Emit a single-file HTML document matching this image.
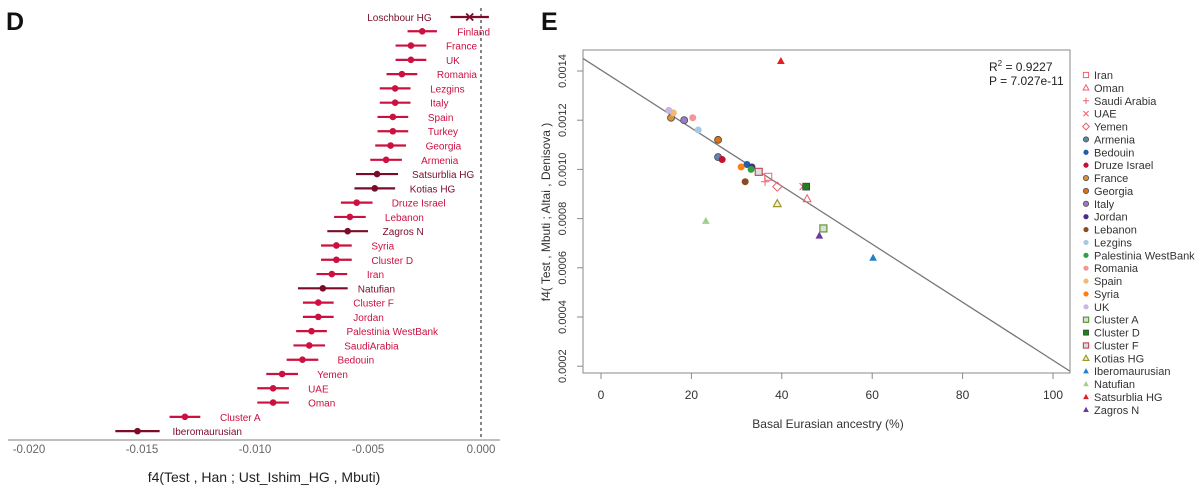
<!DOCTYPE html>
<html><head><meta charset="utf-8"><style>
body{margin:0;background:#fff;width:1200px;height:490px;overflow:hidden}
svg{font-family:"Liberation Sans",sans-serif}
</style></head><body>
<svg id="s" width="1200" height="490" viewBox="0 0 1200 490">
<text x="6" y="30" font-size="25" font-weight="bold" fill="#111">D</text>
<text x="541" y="30" font-size="25" font-weight="bold" fill="#111">E</text>
<g id="left"></g>
<g id="right"></g>
</svg>
<script>
// ---------- Panel D data ----------
const popsD = ["Loschbour HG","Finland","France","UK","Romania","Lezgins","Italy","Spain","Turkey","Georgia","Armenia","Satsurblia HG","Kotias HG","Druze Israel","Lebanon","Zagros N","Syria","Cluster D","Iran","Natufian","Cluster F","Jordan","Palestinia WestBank","SaudiArabia","Bedouin","Yemen","UAE","Oman","Cluster A","Iberomaurusian"];
const f4D = [-0.0005,-0.0026,-0.0031,-0.0031,-0.0035,-0.0038,-0.0038,-0.0039,-0.0039,-0.0040,-0.0042,-0.0046,-0.0047,-0.0055,-0.0058,-0.0059,-0.0064,-0.0064,-0.0066,-0.0070,-0.0072,-0.0072,-0.0075,-0.0076,-0.0079,-0.0088,-0.0092,-0.0092,-0.0131,-0.0152];
const errD = [0.00085,0.00065,0.00068,0.00068,0.00068,0.00068,0.00068,0.00068,0.00068,0.00068,0.0007,0.00093,0.0009,0.0007,0.0007,0.0009,0.00068,0.00068,0.00068,0.0011,0.00068,0.00068,0.00068,0.0007,0.0007,0.0007,0.0007,0.0007,0.00068,0.00098];
const ancientD = [1,0,0,0,0,0,0,0,0,0,0,1,1,0,0,1,0,0,0,1,0,0,0,0,0,0,0,0,0,1];
const ticksD = [-0.020,-0.015,-0.010,-0.005,0.000];
const tickLabelsD = ["-0.020","-0.015","-0.010","-0.005","0.000"];

// ---------- Panel E data ----------
const popsE = ["Iran","Oman","Saudi Arabia","UAE","Yemen","Armenia","Bedouin","Druze Israel","France","Georgia","Italy","Jordan","Lebanon","Lezgins","Palestinia WestBank","Romania","Spain","Syria","UK","Cluster A","Cluster D","Cluster F","Kotias HG","Iberomaurusian","Natufian","Satsurblia HG","Zagros N"];
const basalE = [37,45.6,36.3,44.7,39,25.9,32.3,26.8,15.5,25.9,18.4,33.4,31.9,21.5,33.2,20.3,16,31,15,49.2,45.4,34.9,39,60.2,23.2,39.8,48.3];
const f4E = [0.00097,0.00088,0.00095,0.00093,0.00093,0.00105,0.00102,0.00104,0.00121,0.00112,0.00120,0.00101,0.00095,0.00116,0.00100,0.00121,0.00123,0.00101,0.00124,0.00076,0.00093,0.00099,0.00086,0.00064,0.00079,0.00144,0.00073];
const shapeE = ["sq","tri","plus","x","dia","co","c","c","co","co","co","c","c","c","c","c","c","c","c","sqo","sqf","sqo","trio","trif","trif","trif","trif"];
const colorE = ["#f0606a","#f0606a","#f0606a","#f0606a","#f0606a","#5a88b0","#1f5fa8","#c8102e","#e0903a","#e07010","#9a7cc8","#4a2a8a","#8b4a20","#a8c8e0","#30a040","#f09898","#f4b870","#ff8010","#c8b8e0","#5a9a30","#208020","#c05060","#9a9a20","#2080c8","#a0d090","#e02020","#6a3aa0"];
const xTicksE = [0,20,40,60,80,100];
const yTicksE = [0.0002,0.0004,0.0006,0.0008,0.0010,0.0012,0.0014];
const yTickLabelsE = ["0.0002","0.0004","0.0006","0.0008","0.0010","0.0012","0.0014"];
const fitE = [0.001404,-0.0000118];

const NS="http://www.w3.org/2000/svg";
function mk(p,t,a){const e=document.createElementNS(NS,t);for(const k in a)e.setAttribute(k,a[k]);p.appendChild(e);return e;}

// ---------- Panel D ----------
const L=document.getElementById('left');
const xD=v=>481+v*22600;
const yD=i=>17+i*14.28;
let ax=mk(L,'line',{x1:8,y1:440,x2:500,y2:440,stroke:'#999','stroke-width':1.3});

let dl=mk(L,'line',{x1:xD(0),y1:8,x2:xD(0),y2:440,stroke:'#444','stroke-width':1.3,'stroke-dasharray':'3,3'});

ticksD.forEach((t,i)=>{
  const tl=mk(L,'text',{x:xD(t),y:453,'font-size':11.5,fill:'#666','text-anchor':'middle'});
  tl.textContent=tickLabelsD[i];
  
});
const xt=mk(L,'text',{x:264,y:482,'font-size':14,fill:'#222','text-anchor':'middle'});
xt.textContent='f4(Test , Han ; Ust_Ishim_HG , Mbuti)';

popsD.forEach((p,i)=>{
  const c=ancientD[i]?'#7a0c2a':'#cc1040';
  const y=yD(i),x=xD(f4D[i]);
  const g=mk(L,'g',{});
  
  
  mk(g,'line',{x1:xD(f4D[i]-errD[i]),x2:xD(f4D[i]+errD[i]),y1:y,y2:y,stroke:c,'stroke-width':2.2});
  if(i===0){
    mk(g,'path',{d:`M${x-3.5},${y-3.5}L${x+3.5},${y+3.5}M${x-3.5},${y+3.5}L${x+3.5},${y-3.5}`,stroke:c,'stroke-width':1.8});
  } else mk(g,'circle',{cx:x,cy:y,r:3.3,fill:c});
  const lbl=i===0?mk(g,'text',{x:x-38,y:y+4,'font-size':10,fill:c,'text-anchor':'end'}):mk(g,'text',{x:x+35,y:y+4,'font-size':10,fill:c});
  lbl.textContent=p;
});

// ---------- Panel E ----------
const R=document.getElementById('right');
const xE=v=>601+v*4.52;
const yE=v=>71+(0.0014-v)*246000;
const bx=mk(R,'rect',{x:583,y:50,width:487,height:323,fill:'none',stroke:'#888','stroke-width':1});

xTicksE.forEach(t=>{
  mk(R,'line',{x1:xE(t),x2:xE(t),y1:373,y2:379,stroke:'#888'});
  const tl=mk(R,'text',{x:xE(t),y:399,'font-size':12,fill:'#333','text-anchor':'middle'});
  tl.textContent=String(t);
  
});
yTicksE.forEach((t,i)=>{
  mk(R,'line',{x1:577,x2:583,y1:yE(t),y2:yE(t),stroke:'#888'});
  const tl=mk(R,'text',{x:0,y:0,'font-size':11,fill:'#333','text-anchor':'middle',transform:`translate(566,${yE(t)}) rotate(-90)`});
  tl.textContent=yTickLabelsE[i];
  
});
const xte=mk(R,'text',{x:828,y:428,'font-size':12,fill:'#333','text-anchor':'middle'});
xte.textContent='Basal Eurasian ancestry (%)';

const yte=mk(R,'text',{x:0,y:0,'font-size':12,fill:'#333','text-anchor':'middle',transform:'translate(550,212) rotate(-90)'});
yte.textContent='f4( Test , Mbuti ; Altai , Denisova )';

// regression line clipped to box
const cp=mk(R,'clipPath',{id:'cb'});mk(cp,'rect',{x:583,y:50,width:487,height:323});
const xs0=(583-601)/4.52, xs1=(1070-601)/4.52;
const rl=mk(R,'line',{x1:xE(xs0),y1:yE(fitE[0]+fitE[1]*xs0),x2:xE(xs1),y2:yE(fitE[0]+fitE[1]*xs1),stroke:'#777','stroke-width':1.3,'clip-path':'url(#cb)'});

const r2=mk(R,'text',{x:989,y:71,'font-size':12,fill:'#222'});
r2.innerHTML='R<tspan dy="-5" font-size="8">2</tspan><tspan dy="5"> = 0.9227</tspan>';

const pv=mk(R,'text',{x:989,y:85,'font-size':12,fill:'#222'});
pv.textContent='P = 7.027e-11';


function marker(g,s,x,y,c,sz){
  const r=sz;
  if(s==='c')mk(g,'circle',{cx:x,cy:y,r:r,fill:c});
  else if(s==='co')mk(g,'circle',{cx:x,cy:y,r:r,fill:c,stroke:'#555','stroke-width':0.9});
  else if(s==='sq')mk(g,'rect',{x:x-r,y:y-r,width:2*r,height:2*r,fill:'none',stroke:c,'stroke-width':1});
  else if(s==='sqo')mk(g,'rect',{x:x-r,y:y-r,width:2*r,height:2*r,fill:'#ddd',stroke:c,'stroke-width':1.2});
  else if(s==='sqf')mk(g,'rect',{x:x-r,y:y-r,width:2*r,height:2*r,fill:c,stroke:'#333','stroke-width':0.6});
  else if(s==='tri')mk(g,'path',{d:`M${x},${y-r*1.2}L${x+r*1.1},${y+r*0.8}L${x-r*1.1},${y+r*0.8}Z`,fill:'none',stroke:c,'stroke-width':1});
  else if(s==='trio')mk(g,'path',{d:`M${x},${y-r*1.2}L${x+r*1.1},${y+r*0.8}L${x-r*1.1},${y+r*0.8}Z`,fill:'#eee',stroke:c,'stroke-width':1.2});
  else if(s==='trif')mk(g,'path',{d:`M${x},${y-r*1.2}L${x+r*1.1},${y+r*0.8}L${x-r*1.1},${y+r*0.8}Z`,fill:c});
  else if(s==='plus')mk(g,'path',{d:`M${x-r*1.2},${y}H${x+r*1.2}M${x},${y-r*1.2}V${y+r*1.2}`,stroke:c,'stroke-width':1});
  else if(s==='x')mk(g,'path',{d:`M${x-r},${y-r}L${x+r},${y+r}M${x-r},${y+r}L${x+r},${y-r}`,stroke:c,'stroke-width':1});
  else if(s==='dia')mk(g,'path',{d:`M${x},${y-r*1.3}L${x+r*1.3},${y}L${x},${y+r*1.3}L${x-r*1.3},${y}Z`,fill:'none',stroke:c,'stroke-width':1});
}
popsE.forEach((p,i)=>{
  const g=mk(R,'g',{});
  
  
  marker(g,shapeE[i],xE(basalE[i]),yE(f4E[i]),colorE[i],3.5);
});
// legend
const lg=mk(R,'g',{});

popsE.forEach((p,i)=>{
  const y=75+i*12.88;
  const it=mk(lg,'g',{});
  
  marker(it,shapeE[i],1086,y,colorE[i],2.6);
  const t=mk(it,'text',{x:1094,y:y+4,'font-size':11,fill:'#333'});
  t.textContent=p;
});
</script>
</body></html>
